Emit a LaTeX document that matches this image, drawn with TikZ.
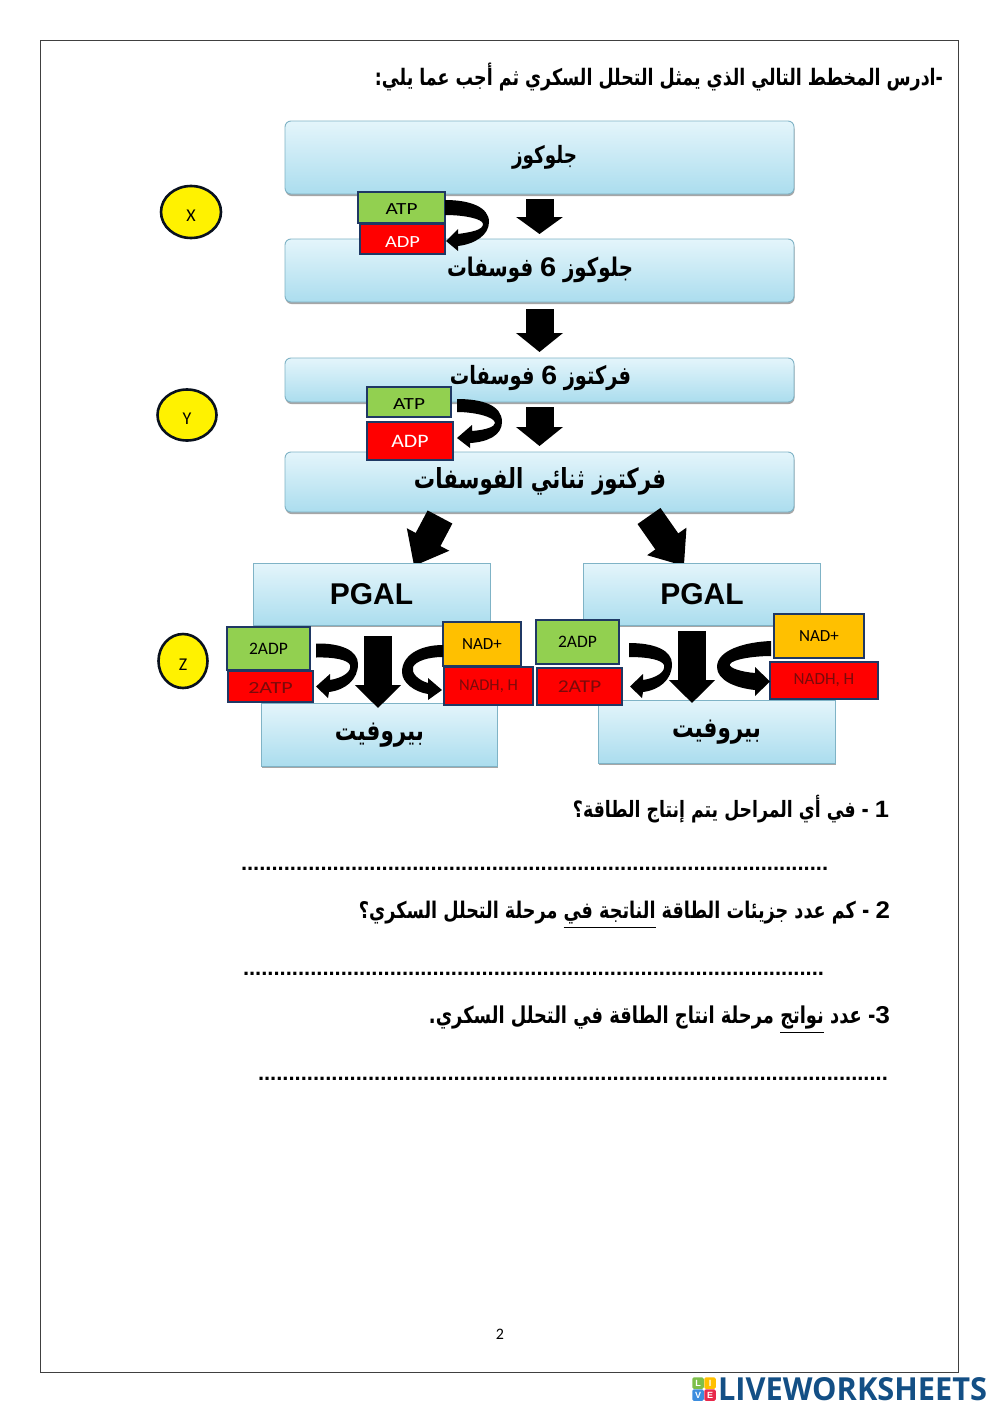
\documentclass[tikz,border=0pt]{standalone}
\usepackage{fontspec}
\usepackage{graphicx}
\usetikzlibrary{arrows.meta,shadows,shapes.geometric}
\TeXXeTstate=1
\setmainfont{Liberation Sans}
\newfontfamily\arabicfont[Script=Arabic]{DejaVu Sans}
\newfontfamily\digitfont[FakeStretch=1.4]{Liberation Sans}
\newfontfamily\carlito{Carlito}
\newfontfamily\logofont{Open Sans}
\newcommand\arfit[2]{\scalebox{1}[1.3]{\resizebox{#1pt}{!}{\arabicfont\bfseries #2}}}
\newcommand\lat[1]{{\digitfont\bfseries\fontsize{10.5}{10.5}\selectfont #1}}
\newcommand\ulin[1]{$\underline{\hbox{\arabicfont\bfseries #1}}$}
\newcommand\lab[3][1]{\scalebox{#1}[1]{\fontsize{#2}{#2}\selectfont\carlito #3}}
\newcommand\dropped[2]{\raisebox{-#1pt}[\height][\depth]{#2}}
\def\dotsten{..........}
\definecolor{ink}{HTML}{1F3864}
\definecolor{boxtop}{HTML}{E4F5FB}
\definecolor{boxbot}{HTML}{ABDDEE}
\definecolor{boxedge}{HTML}{7FB3C6}
\definecolor{leaf}{HTML}{92D050}
\definecolor{amber}{HTML}{FFC000}
\definecolor{pureRed}{HTML}{FF0000}
\definecolor{dullred}{HTML}{7A0A0A}
\definecolor{logoblue}{HTML}{134F85}
\definecolor{tileG}{HTML}{7DBF4A}
\definecolor{tileB}{HTML}{3C8DDE}
\definecolor{tileR}{HTML}{E8294C}
\tikzset{
  flowbox/.style={draw=boxedge,line width=0.9pt,top color=boxtop,bottom color=boxbot,
    inner sep=0pt,outer sep=0pt,rounded corners=6pt,
    drop shadow={shadow xshift=0.5pt,shadow yshift=-2pt,opacity=0.35,fill=black}},
  flatbox/.style={flowbox,rounded corners=0pt},
  chip/.style={draw=ink,line width=2.6pt,inner sep=0pt,outer sep=0pt},
  tag/.style={draw=black!70!ink,line width=2.6pt,fill=yellow,ellipse,inner sep=0pt,outer sep=0pt},
  word/.style={inner sep=0pt,outer sep=0pt},
  bigarrow/.style={line width=28pt,black},
  curl/.style={fill=black,draw=none},
  tile/.style={inner sep=0pt,outer sep=0pt,minimum size=11.5pt,rounded corners=1.5pt,text=white,font=\fontsize{9}{9}\selectfont\bfseries},
}
\begin{document}
\begin{tikzpicture}[x=1pt,y=-1pt]
\useasboundingbox (0,0) rectangle (999,1413);
\fill[white] (0,0) rectangle (999,1413);
\node[draw=black!75,line width=0.8pt,minimum width=918,minimum height=1332,inner sep=0pt,outer sep=0pt] (frame) at (499.5,706.5) {};

% title
\node[word] (title) at (659,77) {\arfit{568}{\beginR -ادرس المخطط التالي الذي يمثل التحلل السكري ثم أجب عما يلي:\endR}};

% big boxes
\node[flowbox,minimum width=509,minimum height=73] (gl) at (539.5,157.5) {};
\node[flowbox,minimum width=509,minimum height=63] (g6p) at (539.5,270.5) {};
\node[flowbox,minimum width=509,minimum height=44] (f6p) at (539.5,380) {};
\node[flowbox,minimum width=509,minimum height=60] (fbp) at (539.5,482) {};

% straight block arrows
\coordinate (dlA) at (440,517);
\coordinate (dlB) at (414,566);
\coordinate (drA) at (649,516);
\coordinate (drB) at (684,566);
\draw[bigarrow,-{Triangle[width=46pt,length=30pt]}] (dlA) -- (dlB);
\draw[bigarrow,-{Triangle[width=46pt,length=30pt]}] (drA) -- (drB);
\draw[bigarrow,-{Triangle[width=46pt,length=17pt]},shorten <=5pt,shorten >=5pt] (gl.south) -- (g6p.north);
\draw[bigarrow,-{Triangle[width=46pt,length=19pt]},shorten <=7pt,shorten >=6pt] (g6p.south) -- (f6p.north);
\draw[bigarrow,-{Triangle[width=46pt,length=19pt]},shorten <=5pt,shorten >=6pt] (f6p.south) -- (fbp.north);

% lower boxes
\node[flatbox,minimum width=237,minimum height=62] (pgalL) at (371.5,594) {};
\node[flatbox,minimum width=237,minimum height=62] (pgalR) at (701.5,594) {};
\node[flatbox,minimum width=236,minimum height=63] (pyrL) at (379,734.5) {};
\node[flatbox,minimum width=237,minimum height=63] (pyrR) at (716.5,731.5) {};

% labels of the big boxes
\node[word] (glT) at (544.5,157) {\arfit{65}{\beginR جلوكوز\endR}};
\node[word] (g6pT) at (540,270) {\arfit{186}{\beginR جلوكوز \lat{6} فوسفات\endR}};
\node[word] (f6pT) at (540.5,378) {\arfit{181}{\beginR فركتوز \lat{6} فوسفات\endR}};
\node[word] (fbpT) at (540,481) {\arfit{252}{\beginR فركتوز ثنائي الفوسفات\endR}};
\node[word,font=\fontsize{30}{30}\selectfont\bfseries] (pgalLT) at (371.5,594) {PGAL};
\node[word,font=\fontsize{30}{30}\selectfont\bfseries] (pgalRT) at (702,594) {PGAL};
\node[word] (pyrLT) at (379.5,735) {\arfit{89}{\beginR بيروفيت\endR}};
\node[word] (pyrRT) at (716.5,732) {\arfit{89}{\beginR بيروفيت\endR}};

% arrows between the two PGAL and pyruvate boxes
\coordinate (mlA) at (378,636);
\coordinate (mrA) at (692,631);
\coordinate (mrB) at (692,703);
\draw[bigarrow,-{Triangle[width=45pt,length=23pt]},shorten >=-5pt] (mlA) -- (mlA |- pyrL.north);
\draw[bigarrow,-{Triangle[width=45pt,length=23pt]}] (mrA) -- (mrB);

% chips
\node[chip,fill=leaf,minimum width=87,minimum height=31] (atp1) at (401.5,207.5) {\dropped{2}{\lab[1.25]{17}{ATP}}};
\node[chip,fill=pureRed,minimum width=85,minimum height=30,text=white] (adp1) at (402.5,239) {\dropped{3}{\lab[1.2]{17}{ADP}}};
\node[chip,fill=leaf,minimum width=84,minimum height=30] (atp2) at (409,402) {\dropped{2}{\lab[1.25]{17}{ATP}}};
\node[chip,fill=pureRed,minimum width=86,minimum height=38,text=white] (adp2) at (410,441) {\lab[1.15]{19}{ADP}};
\node[chip,fill=pureRed,minimum width=85,minimum height=31,text=dullred] (atpL) at (270.5,686.5) {\dropped{1}{\lab[1.3]{17}{2ATP}}};
\node[chip,fill=leaf,minimum width=83,minimum height=43] (adpL) at (268.5,648.5) {\lab{17.5}{2ADP}};
\node[chip,fill=pureRed,minimum width=89,minimum height=38,text=dullred] (nadhL) at (488.5,686) {\lab{16.5}{NADH, H}};
\node[chip,fill=amber,minimum width=78,minimum height=44] (nadL) at (482,644) {\lab{17}{NAD+}};
\node[chip,fill=leaf,minimum width=83,minimum height=44] (adpR) at (577.5,642) {\lab{17.5}{2ADP}};
\node[chip,fill=pureRed,minimum width=85,minimum height=37,text=dullred] (atpR) at (579.5,686.5) {\lab[1.2]{18}{2ATP}};
\node[chip,fill=amber,minimum width=90,minimum height=44] (nadR) at (819,636) {\lab{17}{NAD+}};
\node[chip,fill=pureRed,minimum width=108,minimum height=37,text=dullred] (nadhR) at (824,680.5) {\lab{17}{NADH, H}};

% curved arrows
\fill[curl] ([yshift=7.5pt]atp1.east) .. controls (470,200) and (489,207) .. (489,222) .. controls (489,235) and (475,244) .. (458,246)
  -- (458,251) -- ([yshift=-2pt,xshift=1pt]adp1.east) -- (458,229) -- (458,234) .. controls (472,232) and (483,230) .. (483,224) .. controls (483,219) and (465,215) .. ([yshift=-7.5pt]atp1.east) -- cycle;
\fill[curl] ([yshift=3pt,xshift=6pt]atp2.east) .. controls (482,399) and (502,405) .. (502,422) .. controls (502,435) and (488,442) .. (470,443)
  -- (470,448) -- ([yshift=3pt,xshift=4pt]adp2.east) -- (472,425) -- (472,431) .. controls (485,430) and (495,427) .. (495,423) .. controls (495,417) and (475,412) .. ([yshift=-10pt,xshift=6pt]atp2.east) -- cycle;
% left pair, left side
\fill[curl] ([yshift=5pt,xshift=6pt]adpL.east) .. controls (340,643) and (358,650) .. (358,664) .. controls (358,680) and (345,690) .. (329,692)
  -- (328,698) -- ([xshift=3pt]atpL.east) -- (330,674) -- (330,680) .. controls (342,678) and (352,672) .. (350,665) .. controls (348,660) and (335,657) .. ([yshift=-9pt,xshift=6pt]adpL.east) -- cycle;
% left pair, right side
\fill[curl] ([yshift=-1pt]nadL.west) .. controls (420,645) and (402,655) .. (402,672) .. controls (402,683) and (415,692) .. (428,694)
  -- (428,700) -- ([xshift=-2pt,yshift=-4pt]nadhL.west) -- (428,678) -- (428,683) .. controls (418,680) and (411,673) .. (413,667) .. controls (416,661) and (428,657) .. ([yshift=-13pt]nadL.west) -- cycle;
% right pair, left side
\fill[curl] ([yshift=-1pt,xshift=10pt]adpR.east) .. controls (654,643) and (672,650) .. (672,664) .. controls (672,680) and (659,690) .. (643,692)
  -- (642,698) -- ([xshift=8pt]atpR.east) -- (643,674) -- (643,680) .. controls (656,678) and (666,672) .. (664,665) .. controls (662,660) and (649,657) .. ([yshift=-15pt,xshift=10pt]adpR.east) -- cycle;
% right pair, right side
\fill[curl] ([yshift=-5pt,xshift=-3pt]nadR.west) .. controls (745,642) and (717,650) .. (717,667) .. controls (717,680) and (735,688) .. (755,690)
  -- (755,696) -- ([yshift=-1pt]nadhR.west) -- (755,667) -- (755,673) .. controls (742,672) and (728,668) .. (730,664) .. controls (733,659) and (755,656) .. ([yshift=-20pt,xshift=-3pt]nadR.west) -- cycle;

% tags
\node[tag,minimum width=60,minimum height=52] (tagX) at (191,212) {\dropped{4}{\lab{18}{X}}};
\node[tag,minimum width=59,minimum height=51] (tagY) at (187,415) {\dropped{4}{\lab{18}{Y}}};
\node[tag,minimum width=49,minimum height=54] (tagZ) at (183,661) {\dropped{4}{\lab{18}{Z}}};

% questions
\node[word] (q1) at (731,809) {\arfit{316}{\beginR \lat{1} - في أي المراحل يتم إنتاج الطاقة؟\endR}};
\node[word] (q2) at (624.5,915) {\arfit{531}{\beginR \lat{2} - كم عدد جزيئات الطاقة \ulin{\beginR الناتجة في\endR} مرحلة التحلل السكري؟\endR}};
\node[word] (q3) at (659.5,1020) {\arfit{461}{\beginR \lat{3}- عدد \ulin{\beginR نواتج\endR} مرحلة انتاج الطاقة في التحلل السكري.\endR}};
\node[word,anchor=base west,font=\fontsize{22}{22}\selectfont\bfseries] (d1) at (241,870) {\dotsten\dotsten\dotsten\dotsten\dotsten\dotsten\dotsten\dotsten\dotsten......};
\node[word,anchor=base west,font=\fontsize{22}{22}\selectfont\bfseries] (d2) at (243,975) {\dotsten\dotsten\dotsten\dotsten\dotsten\dotsten\dotsten\dotsten\dotsten.....};
\node[word,anchor=base west,font=\fontsize{22}{22}\selectfont\bfseries] (d3) at (258,1080) {\dotsten\dotsten\dotsten\dotsten\dotsten\dotsten\dotsten\dotsten\dotsten\dotsten...};

\node[word] (page) at (500,1334) {\lab{16}{2}};

% logo
\node[tile,fill=tileG] (lL) at (698,1383) {L};
\node[tile,fill=amber] (lI) at (710,1383) {I};
\node[tile,fill=tileB] (lV) at (698,1395) {V};
\node[tile,fill=tileR] (lE) at (710,1395) {E};
\node[word,text=logoblue,anchor=west] (logo) at (718,1389) {\resizebox{269pt}{23pt}{\logofont\bfseries LIVEWORKSHEETS}};
\end{tikzpicture}
\end{document}
